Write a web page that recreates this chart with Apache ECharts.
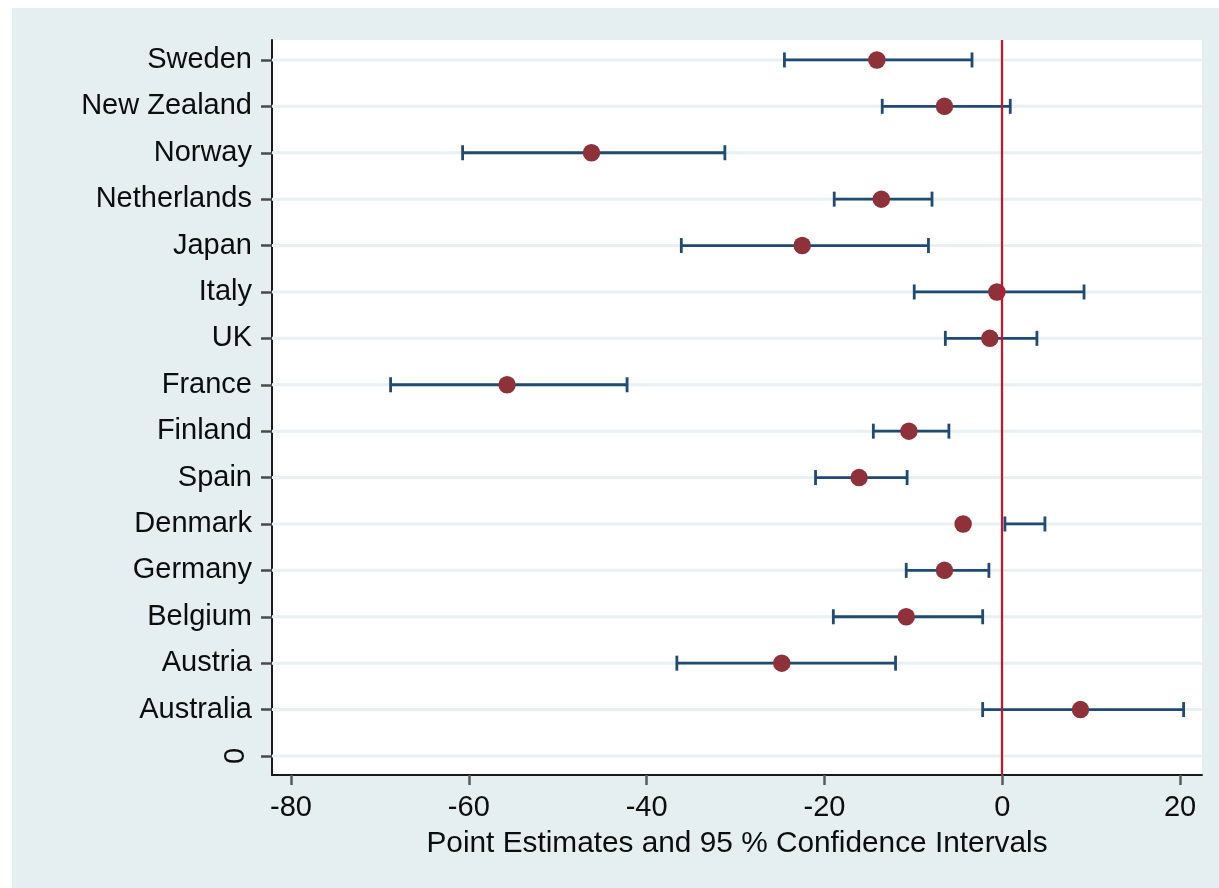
<!DOCTYPE html>
<html>
<head>
<meta charset="utf-8">
<script src="https://cdn.jsdelivr.net/npm/echarts@6/dist/echarts.min.js"></script>
<style>
html,body{margin:0;padding:0;background:#ffffff;width:1219px;height:888px;overflow:hidden}
#c{position:absolute;left:12px;top:8px;width:1207px;height:880px}
</style>
</head>
<body>
<div id="c"></div>
<script>
// ---- data (top to bottom as in the figure) ----
const countries = ['Sweden','New Zealand','Norway','Netherlands','Japan','Italy','UK','France','Finland','Spain','Denmark','Germany','Belgium','Austria','Australia'];
const yPositions = [15,14,13,12,11,10,9,8,7,6,5,4,3,2,1];
const pointEstimates = [-14.1,-6.5,-46.2,-13.6,-22.5,-0.6,-1.4,-55.7,-10.5,-16.1,-4.4,-6.5,-10.8,-24.8,8.8];
const ciLower = [-24.5,-13.5,-60.7,-18.9,-36.1,-9.9,-6.4,-68.8,-14.5,-21.0,0.3,-10.8,-19.0,-36.6,-2.2];
const ciUpper = [-3.4,0.9,-31.2,-7.9,-8.3,9.2,3.9,-42.2,-6.0,-10.7,4.8,-1.5,-2.2,-12.0,20.4];
const yTickValues = [0,1,2,3,4,5,6,7,8,9,10,11,12,13,14,15];
const zeroTickValues = [0];
const zeroTickLabel = '0';
const xTickValues = [-80,-60,-40,-20,0,20];
const referenceLine = 0;
const xTitle = 'Point Estimates and 95 % Confidence Intervals';

// ---- styles ----
const FONT = '"Liberation Sans", Arial, Helvetica, sans-serif';
const BAR = '#1f4a72';
const DOT = '#8e3138';
const REF = '#d0112b';
const GRIDLINE = '#e8f0f1';
const BG = '#e5eef0';

const labelFor = v => {
  const i = yPositions.indexOf(v);
  return i >= 0 ? countries[i] : '';
};

const chart = echarts.init(document.getElementById('c'), null, {renderer: 'canvas'});
const yMin = -0.41, yMax = 15.43;
const option = {
  animation: false,
  backgroundColor: BG,
  textStyle: {fontFamily: FONT},
  grid: {left: 260, top: 32, right: 17, bottom: 113, show: true, backgroundColor: '#ffffff', borderWidth: 0, outerBoundsMode: 'none', containLabel: false},
  xAxis: {
    type: 'value', min: -82.14, max: 22.47,
    axisLine: {show: true, onZero: false, lineStyle: {color: '#1a1a1a', width: 2}},
    axisTick: {show: true, customValues: xTickValues, length: 10, lineStyle: {color: '#5a5a5a', width: 2.5}},
    axisLabel: {show: true, customValues: xTickValues, margin: 18, fontSize: 29, color: '#0d0d0d', fontFamily: FONT},
    splitLine: {show: false},
    name: xTitle, nameLocation: 'middle', nameGap: 54,
    nameTextStyle: {fontSize: 29.8, color: '#0d0d0d', fontFamily: FONT}
  },
  yAxis: [
    {
      type: 'value', min: yMin, max: yMax, position: 'left',
      axisLine: {show: true, onZero: false, lineStyle: {color: '#1a1a1a', width: 2}},
      axisTick: {show: true, customValues: yTickValues, length: 11, lineStyle: {color: '#4a4a4a', width: 2.5}},
      axisLabel: {show: true, customValues: yPositions, margin: 20, fontSize: 29, color: '#0d0d0d', fontFamily: FONT, formatter: v => labelFor(v)},
      splitLine: {show: false}
    },
    {
      type: 'value', min: yMin, max: yMax, position: 'left',
      axisLine: {show: false}, axisTick: {show: false}, splitLine: {show: false},
      axisLabel: {show: true, customValues: zeroTickValues, rotate: 90, margin: 22, fontSize: 29, color: '#0d0d0d', fontFamily: FONT, formatter: () => zeroTickLabel}
    }
  ],
  series: [
    {
      type: 'custom', name: 'gridlines', z: 1, silent: true,
      data: yTickValues.map(v => [referenceLine, v]),
      encode: {x: 0, y: 1},
      renderItem: (params, api) => {
        const cs = params.coordSys;
        const p = api.coord([api.value(0), api.value(1)]);
        return {type: 'line', shape: {x1: cs.x, y1: p[1], x2: cs.x + cs.width, y2: p[1]}, style: {stroke: GRIDLINE, lineWidth: 3}};
      }
    },
    {
      type: 'custom', name: 'ci', z: 2, silent: true,
      data: yPositions.map((y, i) => [ciLower[i], ciUpper[i], y]),
      encode: {x: [0, 1], y: 2},
      renderItem: (params, api) => {
        const y = api.value(2);
        const a = api.coord([api.value(0), y]);
        const b = api.coord([api.value(1), y]);
        const cap = 7.5;
        const st = {stroke: BAR, lineWidth: 2.8};
        return {type: 'group', children: [
          {type: 'line', shape: {x1: a[0], y1: a[1], x2: b[0], y2: b[1]}, style: st},
          {type: 'line', shape: {x1: a[0], y1: a[1] - cap, x2: a[0], y2: a[1] + cap}, style: st},
          {type: 'line', shape: {x1: b[0], y1: b[1] - cap, x2: b[0], y2: b[1] + cap}, style: st}
        ]};
      }
    },
    {
      type: 'scatter', name: 'estimate', z: 3, silent: true,
      symbol: 'circle', symbolSize: 17.5,
      itemStyle: {color: DOT, opacity: 1},
      data: yPositions.map((y, i) => [pointEstimates[i], y]),
      markLine: {
        silent: true, symbol: 'none', label: {show: false}, z: 6,
        lineStyle: {color: REF, width: 2.2, type: 'solid'},
        emphasis: {disabled: true},
        data: [{xAxis: referenceLine}]
      }
    }
  ]
};
chart.setOption(option);
</script>
</body>
</html>
